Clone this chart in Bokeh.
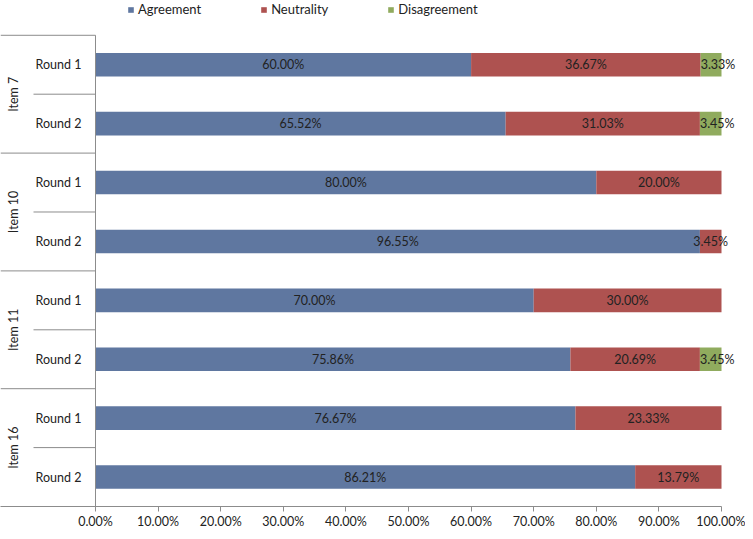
import numpy as np
from bokeh.plotting import figure
from bokeh.core.properties import value
from bokeh.models import (ColumnDataSource, Range1d, FixedTicker, NumeralTickFormatter,
                          Legend, LegendItem, LinearAxis)
from bokeh.embed import file_html
from bokeh.resources import INLINE

# ---------------- data ----------------
items = ["Item 7", "Item 10", "Item 11", "Item 16"]
rounds = ["Round 1", "Round 2"]
agreement = [60.00, 65.52, 80.00, 96.55, 70.00, 75.86, 76.67, 86.21]
neutrality = [36.67, 31.03, 20.00, 3.45, 30.00, 20.69, 23.33, 13.79]
disagreement = [3.33, 3.45, 0.00, 0.00, 0.00, 3.45, 0.00, 0.00]
series = ["Agreement", "Neutrality", "Disagreement"]
colors = ["#5F77A0", "#AE5250", "#90AB5E"]
x_ticks = [0.0, 0.1, 0.2, 0.3, 0.4, 0.5, 0.6, 0.7, 0.8, 0.9, 1.0]

FONT = "Lato"
FS = "12.5px"
TXT = "#222222"
GRID = "#8C8C8C"

# ---------------- layout (pixels) ----------------
W, H = 745, 531
n = len(agreement)
band_top_px = 35
axis_px = 509
border_bottom = H - axis_px
frame_h = axis_px
band_px = (axis_px - band_top_px) / n
x0_px, x1_px = 95, 721
unit = x1_px - x0_px
x_start = -x0_px / unit
x_end = 1 + (W - x1_px) / unit
y_end = n + band_top_px / band_px


def px_to_x(px):
    return (px - x0_px) / unit


p = figure(width=W, height=H, output_backend="svg", toolbar_location=None,
           x_range=Range1d(x_start, x_end), y_range=Range1d(0, y_end),
           y_axis_location=None, x_axis_location=None,
           min_border_left=0, min_border_right=0, min_border_top=0,
           min_border_bottom=border_bottom)
p.outline_line_color = None
p.grid.visible = False
p.background_fill_color = "white"

ys = [n - i - 0.5 for i in range(n)]
a = np.array(agreement) / 100
b = np.array(neutrality) / 100
c = np.array(disagreement) / 100
src = ColumnDataSource(dict(y=ys, agree=a, neutral=b, disagree=c))
rs = p.hbar_stack(["agree", "neutral", "disagree"], y="y", height=0.4,
                  color=colors, line_color=None, source=src)

# data labels
lx, ly, lt, la = [], [], [], []
for i in range(n):
    starts = [0, a[i], a[i] + b[i]]
    vals = [agreement[i], neutrality[i], disagreement[i]]
    widths = [a[i], b[i], c[i]]
    for k in range(3):
        if vals[k] > 0:
            if k == 2:
                lx.append(starts[k]); la.append("left")
            else:
                lx.append(starts[k] + widths[k] / 2); la.append("center")
            ly.append(ys[i]); lt.append(f"{vals[k]:.2f}%")
lsrc = ColumnDataSource(dict(x=lx, y=ly, t=lt, a=la))
p.text(x="x", y="y", text="t", text_align="a", text_baseline="middle",
       text_font=value(FONT), text_font_size=value(FS), text_color=TXT, source=lsrc)

# category axis (nested) drawn manually
round_sep_x = px_to_x(33)
p.segment(x0=[0], y0=[0], x1=[0], y1=[n], line_color=GRID, line_width=1)
item_b = [n - 2 * j for j in range(len(items))]
p.segment(x0=[x_start] * len(item_b), y0=item_b, x1=[0] * len(item_b), y1=item_b,
          line_color=GRID, line_width=1)
round_b = [n - 2 * j - 1 for j in range(len(items))]
p.segment(x0=[round_sep_x] * len(round_b), y0=round_b, x1=[0] * len(round_b), y1=round_b,
          line_color=GRID, line_width=1)
p.text(x=[px_to_x(58)] * n, y=ys,
       text=[rounds[i % 2] for i in range(n)], text_align="center",
       text_baseline="middle", text_font=value(FONT), text_font_size=value(FS),
       text_color=TXT)
item_y = [n - 2 * j - 1 for j in range(len(items))]
p.text(x=[px_to_x(13)] * len(items), y=item_y, text=items, angle=np.pi / 2,
       text_align="center", text_baseline="middle", text_font=value(FONT),
       text_font_size=value(FS), text_color=TXT)

# x axis
ax = LinearAxis(ticker=FixedTicker(ticks=x_ticks),
                formatter=NumeralTickFormatter(format="0.00%"))
ax.bounds = (x_start, 1.0)
ax.axis_line_color = GRID
ax.major_tick_line_color = GRID
ax.major_tick_out = 5
ax.major_tick_in = 0
ax.minor_tick_line_color = None
ax.major_label_standoff = 2
ax.major_label_text_font = FONT
ax.major_label_text_font_size = FS
ax.major_label_text_color = TXT
p.add_layout(ax, "below")

# legend
leg_h = 16
leg = Legend(items=[LegendItem(label=series[k], renderers=[rs[k]]) for k in range(3)],
             orientation="horizontal", location=(127, frame_h - 4 - leg_h),
             glyph_width=7, glyph_height=7, label_standoff=4, spacing=59,
             label_height=leg_h, padding=0, margin=0, border_line_color=None,
             background_fill_alpha=0, label_text_font=FONT,
             label_text_font_size="13px", label_text_color=TXT)
p.add_layout(leg, "center")

open("out.html", "w").write(file_html(p, INLINE))
